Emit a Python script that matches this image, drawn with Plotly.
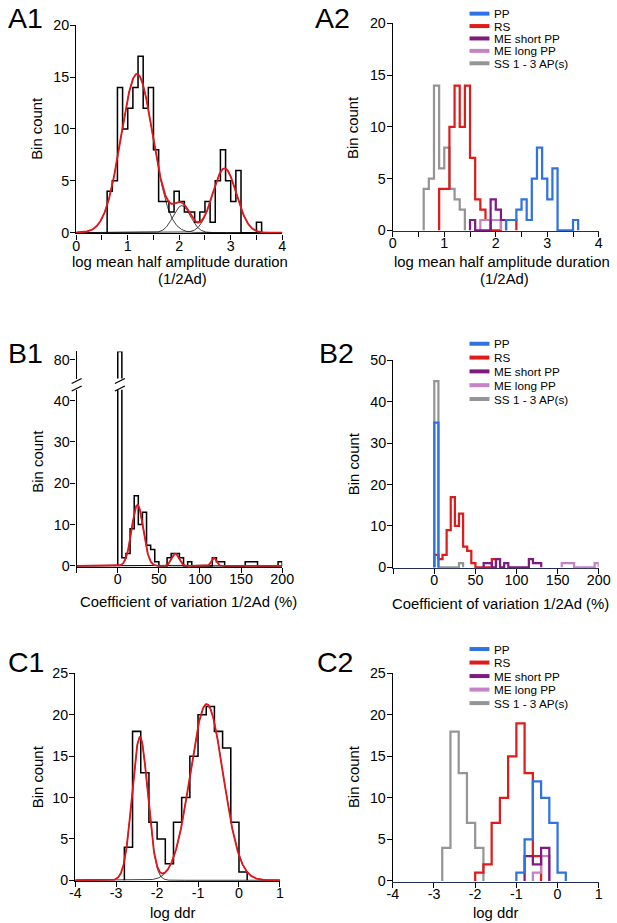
import numpy as np
import plotly.graph_objects as go

# The photo of the page comes back shrunk (a 633x939 view, with the page 8px in, is
# scaled to 617x923), so every position below is written in picture pixels and
# mapped back onto the figure by px_x / px_y.  The body margin is removed on load.
SX, SY = 617 / 633, 923 / 939
VIEW_OFF = 8
W, H = 625, 931
FS = 1.02  # font compensation for the shrink
FONT = "Liberation Sans, Arial, sans-serif"

# ---- groups shared by the right-hand panels
GROUPS = ["PP", "RS", "ME short PP", "ME long PP", "SS 1 - 3 AP(s)"]
COLORS = ["#2f72e4", "#e01b1b", "#7e1a80", "#c383c4", "#959595"]
DRAW_ORDER = [4, 1, 3, 2, 0]  # gray first, blue last

# ---- A: log mean half amplitude duration (bin width 0.1)
A_BIN = 0.1
A1_START = 0.6
A1_COUNTS = [4, 5, 14, 10, 12, 14, 17, 12, 14, 8, 3, 3, 2, 4, 3,
             2, 2, 1, 2, 3, 1, 5, 8, 5, 3, 6, 0, 0, 0, 1]
A1_FIT_AMP = [15.3, 2.6, 6.2]
A1_FIT_MU = [1.18, 2.05, 2.88]
A1_FIT_SD = [0.31, 0.17, 0.23]

A2_PP = [1, 1, 2, 3, 1, 5, 8, 5, 3, 6, 0, 0, 0, 1]
A2_RS = [4, 4, 10, 14, 10, 14, 7, 3, 2, 1, 0, 0, 1, 1, 1]
A2_ME_SHORT = [1, 0, 0, 0, 3, 2, 1]
A2_ME_LONG = [1, 1, 1, 1]
A2_SS = [4, 5, 14, 6, 8, 4, 3, 2]
A2_STARTS = [2.2, 0.9, 1.5, 1.7, 0.6]

# ---- B: coefficient of variation of 1/2Ad in % (bin width 5)
B_BIN = 5
B1_START = 0
B1_COUNTS = [82, 2, 3, 9, 17, 10, 13, 5, 4, 1, 0, 0, 2, 3, 3, 2, 0, 1,
             0, 0, 0, 0, 0, 2, 1, 1, 0, 0, 0, 0, 0, 1, 1, 1,
             0, 0, 0, 0, 0, 1]
B1_FIT_AMP = [14.8, 3.0, 2.0]
B1_FIT_MU = [24, 70, 117]
B1_FIT_SD = [7.0, 4.5, 3.0]

B2_PP = [35]
B2_RS = [3, 2, 3, 9, 17, 10, 13, 5, 4, 1, 0, 0, 0, 0, 2]
B2_ME_SHORT = [1, 1, 0, 2, 0, 1, 0, 0, 0, 0, 0, 2, 1, 1]
B2_ME_LONG = [1, 1, 1, 0, 0, 0, 0, 0, 1]
B2_SS = [45, 0, 0, 0, 0, 0, 1]
B2_STARTS = [0, 0, 60, 155, 0]

# ---- C: log ddr (bin width 0.2)
C_BIN = 0.2
C1_START = -2.8
C1_COUNTS = [4, 18, 13, 7, 5, 2, 7, 10, 15, 20, 21, 18, 16, 7, 1]
C1_FIT_AMP = [17.3, 21.3]
C1_FIT_MU = [-2.42, -0.79]
C1_FIT_SD = [0.19, 0.40]

C2_PP = [1, 5, 12, 10, 7, 1]
C2_RS = [1, 2, 7, 10, 15, 19, 13, 3]
C2_ME_SHORT = [3, 2, 4]
C2_ME_LONG = [1, 3]
C2_SS = [4, 18, 13, 7, 4]
C2_STARTS = [-1.0, -2.0, -0.8, -0.6, -2.8]


def px_x(d):
    return (d / SX - VIEW_OFF) / W


def px_y(d):
    return 1 - (d / SY - VIEW_OFF) / H


def step_xy(start, width, counts):
    edges = np.round(start + width * np.arange(len(counts) + 1), 6)
    x = np.concatenate([[edges[0]], edges])
    y = np.concatenate([[0], counts, [0]])
    return x, y


def gauss(x, a, m, s):
    return a * np.exp(-0.5 * ((x - m) / s) ** 2)


fig = go.Figure()


def add_step(start, counts, width, color, lw, xa, ya):
    x, y = step_xy(start, width, counts)
    fig.add_trace(go.Scatter(x=x, y=y, mode="lines",
                             line=dict(color=color, width=lw * FS, shape="hv"),
                             xaxis=xa, yaxis=ya, showlegend=False,
                             hoverinfo="skip"))


def add_fit(xr, amps, mus, sds, xa, ya):
    xs = np.linspace(xr[0], xr[1], 600)
    parts = [gauss(xs, a, m, s) for a, m, s in zip(amps, mus, sds)]
    for p in parts:
        fig.add_trace(go.Scatter(x=xs, y=p, mode="lines",
                                 line=dict(color="black", width=0.75),
                                 xaxis=xa, yaxis=ya, showlegend=False,
                                 hoverinfo="skip"))
    fig.add_trace(go.Scatter(x=xs, y=np.sum(parts, axis=0), mode="lines",
                             line=dict(color="#e0161b", width=1.85),
                             xaxis=xa, yaxis=ya, showlegend=False,
                             hoverinfo="skip"))


def add_groups(series, starts, width, xa, ya):
    for i in DRAW_ORDER:
        add_step(starts[i], series[i], width, COLORS[i], 2.2, xa, ya)


# --- A1 / A2
add_step(A1_START, A1_COUNTS, A_BIN, "black", 1.5, "x", "y")
add_fit((0, 4), A1_FIT_AMP, A1_FIT_MU, A1_FIT_SD, "x", "y")
add_groups([A2_PP, A2_RS, A2_ME_SHORT, A2_ME_LONG, A2_SS], A2_STARTS, A_BIN, "x2", "y2")

# --- B1 (broken axis) / B2
add_step(B1_START, B1_COUNTS, B_BIN, "black", 1.5, "x3", "y3")
add_step(B1_START, B1_COUNTS, B_BIN, "black", 1.5, "x3", "y4")
add_fit((-50, 200), B1_FIT_AMP, B1_FIT_MU, B1_FIT_SD, "x3", "y3")
add_groups([B2_PP, B2_RS, B2_ME_SHORT, B2_ME_LONG, B2_SS], B2_STARTS, B_BIN, "x4", "y5")

# --- C1 / C2
add_step(C1_START, C1_COUNTS, C_BIN, "black", 1.5, "x5", "y6")
add_fit((-4, 1), C1_FIT_AMP, C1_FIT_MU, C1_FIT_SD, "x5", "y6")
add_groups([C2_PP, C2_RS, C2_ME_SHORT, C2_ME_LONG, C2_SS], C2_STARTS, C_BIN, "x6", "y7")

# --- axes
base = dict(showline=True, linecolor="black", linewidth=1.3, ticks="outside",
            ticklen=5, tickwidth=1.3, tickcolor="black", showgrid=False,
            zeroline=False, layer="below traces", fixedrange=True,
            tickfont=dict(family=FONT, size=14 * FS, color="black"))


def xax(left, right, rng, vals, texts, anchor, color="black"):
    d = dict(base)
    d.update(domain=[px_x(left), px_x(right)], range=rng, tickvals=vals,
             ticktext=texts, anchor=anchor, linecolor=color, ticklabelstandoff=-6)
    return d


def yax(bottom, top, vmax, dtick, anchor, vmin=0):
    ppu = (bottom - top) / (vmax - vmin)
    off = 0.8 / ppu
    d = dict(base)
    d.update(domain=[px_y(bottom + 0.8), px_y(top)], range=[vmin - off, vmax],
             dtick=dtick, tick0=0, anchor=anchor, ticklabelstandoff=-2)
    return d


A_TICKS = [0, 0.5, 1, 1.5, 2, 2.5, 3, 3.5, 4]
A_TEXT = ["0", "", "1", "", "2", "", "3", "", "4"]
B_TICKS = [-50, 0, 50, 100, 150, 200]
B_TEXT = ["", "0", "50", "100", "150", "200"]
C_TICKS = [-4, -3, -2, -1, 0, 1]
C_TEXT = ["-4", "-3", "-2", "-1", "0", "1"]
NAVY = "#1f2d55"

fig.update_layout(
    xaxis=xax(78.3, 285, [0, 4], A_TICKS, A_TEXT, "y"),
    yaxis=yax(232.3, 25, 20, 5, "x"),
    xaxis2=xax(396, 602.7, [0, 4], A_TICKS, A_TEXT, "y2", NAVY),
    yaxis2=yax(230, 23.3, 20, 5, "x2"),
    xaxis3=xax(78.7, 285, [-50, 200], B_TICKS, B_TEXT, "y3"),
    yaxis3=yax(565.3, 389.3, 42.6, 10, "x3"),
    yaxis4=yax(377.3, 351, 82.0, 10, "x3", vmin=75.64),
    xaxis4=xax(396.4, 602.7, [-50, 200], B_TICKS, B_TEXT, "y5", NAVY),
    yaxis5=yax(566.7, 360, 50, 10, "x4"),
    xaxis5=xax(77.3, 282.7, [-4, 1], C_TICKS, C_TEXT, "y6"),
    yaxis6=yax(879.3, 672.7, 25, 5, "x5"),
    xaxis6=xax(396, 602.7, [-4, 1], C_TICKS, C_TEXT, "y7", NAVY),
    yaxis7=yax(880, 672.7, 25, 5, "x6"),
)
fig.layout.yaxis4.tickvals = [80]

annotations = []
shapes = []


def text_at(text, x, y, size=14.6, angle=0, xanchor="center"):
    annotations.append(dict(text=text, x=px_x(x), y=px_y(y), xref="paper", yref="paper",
                            xanchor=xanchor, yanchor="middle", textangle=angle,
                            showarrow=False,
                            font=dict(family=FONT, size=size * FS, color="black")))


# panel labels (cap middle of the glyphs); the left ones sit at the view edge
for label, x0, y0 in [("A1", 7.8, 18.3), ("A2", 316, 18.3), ("B1", 7.8, 352.5),
                      ("B2", 319.5, 352.5), ("C1", 7.8, 661.7), ("C2", 318.3, 661.7)]:
    text_at(label, x0, y0, size=28, xanchor="left")

# axis titles
for xc, yc in [(39, 128.5), (356.7, 127), (39, 461), (356.7, 463), (39.3, 776), (357.3, 776)]:
    text_at("Bin count", xc, yc, angle=-90)
for xc in (182.5, 506):
    text_at("log mean half amplitude duration", xc, 261.5)
    text_at("(1/2Ad)", xc + 2.5, 278.5)
text_at("Coefficient of variation 1/2Ad (%)", 191, 601.7)
text_at("Coefficient of variation 1/2Ad (%)", 504, 603)
text_at("log ddr", 175.8, 912)
text_at("log ddr", 500, 912)

# axis break marks on B1 (axis and the tall first bin)
for yb in (380.5, 388.0):
    for xc in (78.7, 122.1):
        shapes.append(dict(type="line", xref="paper", yref="paper",
                           x0=px_x(xc - 5), y0=px_y(yb + 2.5), x1=px_x(xc + 5), y1=px_y(yb - 2.5),
                           line=dict(color="black", width=1.3)))

# legends of the right-hand panels
for top, gap in [(13.5, 12.4), (343.3, 13.8), (648.3, 13.5)]:
    for i, name in enumerate(GROUPS):
        yc = top + i * gap
        shapes.append(dict(type="line", xref="paper", yref="paper",
                           x0=px_x(473), x1=px_x(493), y0=px_y(yc), y1=px_y(yc),
                           line=dict(color=COLORS[i], width=4)))
        text_at(name, 496, yc, size=11.5, xanchor="left")

fig.update_layout(
    width=W, height=H,
    margin=dict(l=0, r=0, t=0, b=0),
    paper_bgcolor="white", plot_bgcolor="white",
    showlegend=False,
    annotations=annotations, shapes=shapes,
    font=dict(family=FONT, color="black"),
)

fig.write_html("out.html", config={"displayModeBar": False},
               post_script="document.body.style.margin='0';document.body.style.overflow='hidden';")
